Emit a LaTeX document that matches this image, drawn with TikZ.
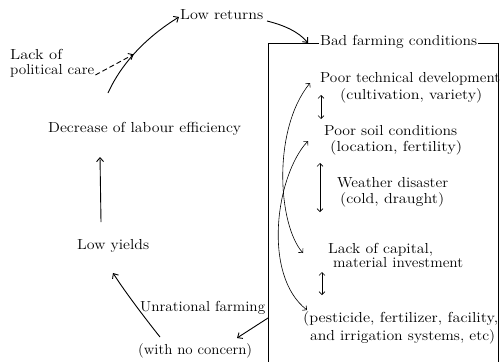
\documentclass[tikz,border=0pt]{standalone}
\usetikzlibrary{calc,arrows.meta}
\newcommand{\fitw}[2]{\resizebox{#1pt}{\height}{#2}}
\begin{document}
\begin{tikzpicture}[x=1pt,y=-1pt,
  every node/.style={font=\fontsize{14.5}{17}\selectfont, inner sep=1pt, text height=1.5ex, text depth=.25ex},
  lbl/.style={anchor=west},
  conn/.style={-{Straight Barb[length=4pt,width=7pt]}, line width=0.9pt},
  rel/.style={{Straight Barb[length=3pt,width=6pt]}-{Straight Barb[length=3pt,width=6pt]}, line width=0.6pt},
  boxline/.style={line width=0.8pt}]
\useasboundingbox (0,0) rectangle (503,362);

% left cycle
\node[lbl] (lowret) at (179,17) {\fitw{83}{Low returns}};
\node[lbl] (lack1) at (9,57) {\fitw{52}{Lack of}};
\node[lbl] (lack2) at (9,72) {\fitw{84}{political care}};
\node[lbl] (decr) at (47,130) {\fitw{193}{Decrease of labour efficiency}};
\node[lbl] (lowy) at (76,247) {\fitw{72}{Low yields}};
\node[lbl] (unrat) at (139,309) {\fitw{125}{Unrational farming}};
\node[lbl] (noconc) at (137,352) {\fitw{114}{(with no concern)}};

% box contents
\node[lbl] (bad) at (319,43) {\fitw{157}{Bad farming conditions}};
\node[lbl] (pt1) at (319,80) {\fitw{180}{Poor technical development}};
\node[lbl] (pt2) at (339,97) {\fitw{142}{(cultivation, variety)}};
\node[lbl] (ps1) at (323,133) {\fitw{133}{Poor soil conditions}};
\node[lbl] (ps2) at (329,149) {\fitw{132}{(location, fertility)}};
\node[lbl] (wd1) at (336,185) {\fitw{111}{Weather disaster}};
\node[lbl] (wd2) at (339,201) {\fitw{104}{(cold, draught)}};
\node[lbl] (lc1) at (327,251) {\fitw{105}{Lack of capital,}};
\node[lbl] (lc2) at (332,265) {\fitw{130}{material investment}};
\node[lbl] (pe1) at (302,320) {\fitw{195}{(pesticide, fertilizer, facility,}};
\node[lbl] (pe2) at (309,338) {\fitw{185}{and irrigation systems, etc)}};

% coordinates
\coordinate (dstart) at (108,93);
\coordinate (ystart) at (101,222);
\coordinate (yend) at (100,157);
\coordinate (ustart) at (160,337);
\coordinate (uend) at (113,273);
\coordinate (bstart) at (268,318);
\coordinate (bend) at (237,338);
\coordinate (rstart) at (267,21);
\coordinate (rend) at (308,43);
\coordinate (boxbl) at (268,362);
\coordinate (boxbr) at (498,362);
\coordinate (a1) at (321,95);
\coordinate (a2) at (321,119);
\coordinate (b1) at (320,163);
\coordinate (b2) at (320,212);
\coordinate (c1) at (322,272);
\coordinate (c2) at (322,295);
\coordinate (tpt) at (310,83);
\coordinate (tps) at (308,141);
\coordinate (tlc) at (303,253);
\coordinate (tpe) at (307,310);

% box
\draw[boxline] (bad.west) -| (boxbl);
\draw[boxline] (bad.east) -| (boxbr);

% cycle arrows
\draw[conn] (dstart) .. controls (122,62) and (148,36) .. (lowret.west) coordinate[pos=0.45] (pc);
\draw[conn, dash pattern=on 5pt off 3pt] ([yshift=-3pt]lack2.east) -- (pc);
\draw[conn] (ystart) -- (yend);
\draw[conn] (ustart) .. controls (148,322) and (125,292) .. (uend);
\draw[conn] (bstart) -- (bend);
\draw[conn] (rstart) .. controls (283,25) and (298,31) .. (rend);

% relations inside box
\draw[rel] (a1) -- (a2);
\draw[rel] (b1) -- (b2);
\draw[rel] (c1) -- (c2);
\draw[rel] (tlc) .. controls (278,225) and (272,130) .. (tpt);
\draw[rel] (tps) .. controls (276,175) and (262,275) .. (tpe);
\end{tikzpicture}
\end{document}
